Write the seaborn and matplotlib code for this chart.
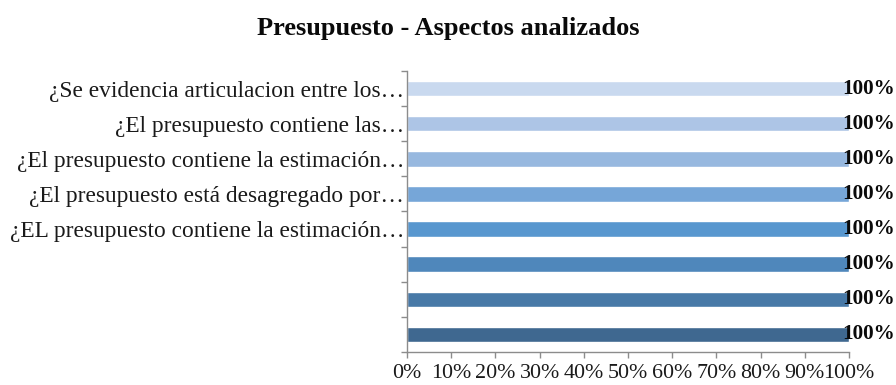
import matplotlib
matplotlib.use("Agg")
import matplotlib.pyplot as plt
from matplotlib.ticker import FixedLocator, PercentFormatter
import seaborn as sns
import pandas as pd

# Aspects evaluated in the budget review, listed top to bottom
item_ids = ["A1", "A2", "A3", "A4", "A5", "A6", "A7", "A8"]
item_labels = [
    "¿Se evidencia articulacion entre los…",
    "¿El presupuesto contiene las…",
    "¿El presupuesto contiene la estimación…",
    "¿El presupuesto está desagregado por…",
    "¿EL presupuesto contiene la estimación…",
    "",
    "",
    "",
]
compliance = [1.0, 1.0, 1.0, 1.0, 1.0, 1.0, 1.0, 1.0]
bar_colors = ["#c9d9ef", "#adc5e6", "#97b8df", "#76a6d8", "#5897cf",
              "#4f87bb", "#4879a7", "#3f6890"]

df = pd.DataFrame({"item": item_ids, "value": compliance})

sns.set_theme(style="white")
plt.rcParams["font.family"] = ["Liberation Serif", "DejaVu Serif"]

fig = plt.figure(figsize=(8.96, 3.85), dpi=100)
ax = fig.add_axes([0.4542, 0.0857, 0.4933, 0.7299])

sns.barplot(data=df, x="value", y="item", hue="item", palette=bar_colors,
            order=item_ids, hue_order=item_ids, width=0.44, legend=False,
            saturation=1, ax=ax)

ax.set_xlim(0, 1)
ax.set_ylim(len(item_ids) - 0.5, -0.5)
ax.set_xticks([i / 10 for i in range(11)])
ax.xaxis.set_major_formatter(PercentFormatter(1.0, decimals=0))
ax.set_yticks(range(len(item_ids)))
ax.set_yticklabels(item_labels)
ax.yaxis.set_minor_locator(FixedLocator([i - 0.5 for i in range(len(item_ids) + 1)]))
ax.set_xlabel("")
ax.set_ylabel("")

for side in ("top", "right"):
    ax.spines[side].set_visible(False)
for side in ("left", "bottom"):
    ax.spines[side].set_color("#8c8c8c")
    ax.spines[side].set_linewidth(1.0)

ax.tick_params(axis="y", which="major", length=0, pad=2, labelsize=16.8,
               labelcolor="#1a1a1a")
ax.tick_params(axis="y", which="minor", left=True, length=4.3, width=1.0,
               color="#8c8c8c")
ax.tick_params(axis="x", which="major", bottom=True, length=4.3, width=1.0,
               color="#8c8c8c", labelsize=15.8, labelcolor="#1a1a1a", pad=4)

for i, v in enumerate(compliance):
    ax.text(v - 0.015, i, f"{v:.0%}", ha="left", va="center",
            fontsize=15.2, fontweight="bold", color="#0a0a0a", clip_on=False)

fig.suptitle("Presupuesto - Aspectos analizados", x=0.5, y=0.955,
             fontsize=19, fontweight="bold", color="#0a0a0a")

fig.savefig("out.png", dpi=100)
